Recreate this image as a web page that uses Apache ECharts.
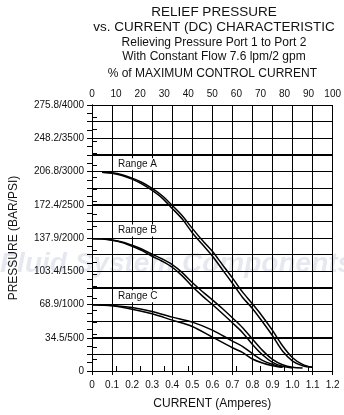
<!DOCTYPE html>
<html><head><meta charset="utf-8">
<script src="https://cdn.jsdelivr.net/npm/echarts@6/dist/echarts.min.js"></script>
<style>html,body{margin:0;padding:0;background:#fff}#c{width:344px;height:415px}</style>
</head><body><div id="c"></div>
<script>
var titleLines = ['RELIEF PRESSURE', 'vs. CURRENT (DC) CHARACTERISTIC'];
var subtitleLines = ['Relieving Pressure Port 1 to Port 2', 'With Constant Flow 7.6 lpm/2 gpm'];
var topAxisName = '% of MAXIMUM CONTROL CURRENT';
var bottomAxisName = 'CURRENT (Amperes)';
var leftAxisName = 'PRESSURE (BAR/PSI)';
var watermarkText = 'Fluid System Components';
var yTickLabels = {0:'0',500:'34.5/500',1000:'68.9/1000',1500:'103.4/1500',2000:'137.9/2000',2500:'172.4/2500',3000:'206.8/3000',3500:'248.2/3500',4000:'275.8/4000'};
var xGridValues = [0.1, 0.2, 0.3, 0.4, 0.5, 0.6, 0.7, 0.8, 0.9, 1.0, 1.1];
var yGridValues = [250, 500, 750, 1000, 1250, 1500, 1750, 2000, 2250, 2500, 2750, 3000, 3250, 3500, 3750];
var rangeNames = ['Range A', 'Range B', 'Range C'];
var rangeLabelPos = [[0.12, 3110], [0.12, 2112], [0.12, 1124]];

var rangeA1 = [[0.05,2990],[0.1,2975],[0.15,2940],[0.2,2885],[0.25,2810],[0.3,2715],[0.35,2600],[0.4,2445],[0.45,2285],[0.5,2080],[0.55,1905],[0.6,1730],[0.65,1525],[0.7,1320],[0.75,1110],[0.8,940],[0.85,740],[0.9,530],[0.95,300],[1.0,150],[1.05,80],[1.1,55]];
var rangeA2 = [[0.05,2990],[0.1,2980],[0.15,2950],[0.2,2900],[0.25,2835],[0.3,2745],[0.35,2635],[0.4,2490],[0.45,2335],[0.5,2145],[0.55,1965],[0.6,1800],[0.65,1600],[0.7,1400],[0.75,1190],[0.8,1010],[0.85,820],[0.9,610],[0.95,380],[1.0,200],[1.05,100],[1.1,55]];
var rangeB1 = [[0,1990],[0.05,1985],[0.1,1965],[0.15,1930],[0.2,1875],[0.25,1810],[0.3,1725],[0.35,1650],[0.4,1560],[0.45,1430],[0.5,1270],[0.55,1130],[0.6,1000],[0.65,865],[0.7,725],[0.75,580],[0.8,400],[0.85,245],[0.9,130],[0.95,70],[1.0,45]];
var rangeB2 = [[0,1990],[0.05,1987],[0.1,1970],[0.15,1940],[0.2,1890],[0.25,1830],[0.3,1755],[0.35,1685],[0.4,1600],[0.45,1480],[0.5,1330],[0.55,1195],[0.6,1070],[0.65,940],[0.7,800],[0.75,655],[0.8,480],[0.85,310],[0.9,175],[0.95,95],[1.0,55],[1.05,45]];
var rangeC1 = [[0,995],[0.1,985],[0.2,955],[0.3,895],[0.4,810],[0.5,735],[0.6,615],[0.7,450],[0.75,370],[0.8,260],[0.85,160],[0.9,100],[0.95,55]];
var rangeC2 = [[0,995],[0.1,980],[0.2,930],[0.3,860],[0.4,765],[0.5,670],[0.6,510],[0.7,350],[0.75,280],[0.8,180],[0.85,120],[0.9,80],[0.95,55]];

var X_MIN = 0, X_MAX = 1.2, Y_MIN = 0, Y_MAX = 4000;
var FONT = '"Liberation Sans", Arial, sans-serif';
var chart = echarts.init(document.getElementById('c'));

function lineSeries(name, data) {
  return {type: 'line', name: name, data: data, xAxisIndex: 0, yAxisIndex: 0, smooth: 0.3,
    symbol: 'none', lineStyle: {color: '#000', width: 1.5}, z: 5, silent: true};
}
function crisp(v) { return Math.round(v - 0.5) + 0.5; }

var option = {
  animation: false,
  title: [
    {text: titleLines.join('\n'), left: 209, top: 0, textAlign: 'center',
      textStyle: {fontFamily: FONT, fontSize: 13.5, fontWeight: 'normal', color: '#111', lineHeight: 15}},
    {text: subtitleLines.join('\n'), left: 209, top: 31, textAlign: 'center',
      textStyle: {fontFamily: FONT, fontSize: 12, fontWeight: 'normal', color: '#111', lineHeight: 14}}
  ],
  graphic: [{
    type: 'text', left: 0, top: 250, z: -1, silent: true,
    style: {text: watermarkText, fontFamily: FONT, fontSize: 28, fontWeight: 'bold', fontStyle: 'italic', fill: 'rgba(200,204,222,0.45)'}
  }],
  grid: {left: 87, right: 11, top: 105, bottom: 43},
  xAxis: [
    {type: 'value', position: 'bottom', min: X_MIN, max: X_MAX, interval: 0.1,
      name: bottomAxisName, nameLocation: 'middle', nameGap: 27,
      nameTextStyle: {fontFamily: FONT, fontSize: 12, color: '#111'},
      axisLine: {show: true, lineStyle: {color: '#000'}},
      axisTick: {show: true, length: 4, lineStyle: {color: '#000'}},
      axisLabel: {fontFamily: FONT, fontSize: 10, color: '#111', margin: 9,
        formatter: function (v) { return v === 0 ? '0' : v.toFixed(1); }},
      splitLine: {show: true, lineStyle: {color: '#000', width: 1}}},
    {type: 'value', position: 'top', min: 0, max: 100, interval: 10,
      name: topAxisName, nameLocation: 'middle', nameGap: 25,
      nameTextStyle: {fontFamily: FONT, fontSize: 12, color: '#111'},
      axisLine: {show: true, lineStyle: {color: '#000'}},
      axisTick: {show: true, length: 5, lineStyle: {color: '#000'}},
      axisLabel: {fontFamily: FONT, fontSize: 10, color: '#111', margin: 6},
      splitLine: {show: false}}
  ],
  yAxis: [
    {type: 'value', position: 'left', min: Y_MIN, max: Y_MAX, interval: 250,
      name: leftAxisName, nameLocation: 'middle', nameGap: 72, nameRotate: 90,
      nameTextStyle: {fontFamily: FONT, fontSize: 12, color: '#111'},
      axisLine: {show: true, lineStyle: {color: '#000'}},
      axisTick: {show: true, length: 5, lineStyle: {color: '#000'}},
      axisLabel: {fontFamily: FONT, fontSize: 10, color: '#111', margin: 8,
        formatter: function (v) { return yTickLabels[v] !== undefined ? yTickLabels[v] : ''; }},
      splitLine: {show: true, lineStyle: {color: '#000', width: 1}}},
    {type: 'value', position: 'right', min: 0, max: 22, interval: 1,
      axisLine: {show: true, lineStyle: {color: '#000'}},
      axisTick: {show: true, length: 5, lineStyle: {color: '#000'}},
      axisLabel: {show: false}, splitLine: {show: false}},
    {type: 'value', position: 'left', min: 0, max: 4000, interval: 125,
      axisLine: {show: false}, axisTick: {show: true, length: 5, lineStyle: {color: '#000'}},
      axisLabel: {show: false}, splitLine: {show: false}}
  ],
  series: [
    {type: 'custom', name: 'vgrid', xAxisIndex: 0, yAxisIndex: 0, z: 1, silent: true, clip: false,
      data: xGridValues.map(function (v) { return [v, Y_MIN]; }),
      renderItem: function (params, api) {
        var a = api.coord([api.value(0), Y_MIN]), b = api.coord([api.value(0), Y_MAX]);
        var x = crisp(a[0]);
        return {type: 'line', shape: {x1: x, y1: a[1], x2: x, y2: b[1]}, style: {stroke: '#000', lineWidth: 1}};
      }},
    {type: 'custom', name: 'hgrid', xAxisIndex: 0, yAxisIndex: 0, z: 1, silent: true, clip: false,
      data: yGridValues.map(function (v) { return [X_MIN, v]; }),
      renderItem: function (params, api) {
        var a = api.coord([X_MIN, api.value(1)]), b = api.coord([X_MAX, api.value(1)]);
        var y = crisp(a[1]);
        return {type: 'line', shape: {x1: a[0], y1: y, x2: b[0], y2: y}, style: {stroke: '#000', lineWidth: 1}};
      }},
    lineSeries('Range A 1', rangeA1), lineSeries('Range A 2', rangeA2),
    lineSeries('Range B 1', rangeB1), lineSeries('Range B 2', rangeB2),
    lineSeries('Range C 1', rangeC1), lineSeries('Range C 2', rangeC2),
    {type: 'custom', name: 'labels', xAxisIndex: 0, yAxisIndex: 0, z: 10, silent: true, clip: false,
      data: rangeLabelPos,
      renderItem: function (params, api) {
        var p = api.coord([api.value(0), api.value(1)]);
        return {type: 'text', x: p[0], y: p[1],
          style: {text: rangeNames[params.dataIndex], font: '10px ' + FONT, fill: '#111',
            backgroundColor: '#fff', padding: [1, 2], align: 'left', verticalAlign: 'middle'}};
      }}
  ]
};
chart.setOption(option);
</script>
</body></html>
